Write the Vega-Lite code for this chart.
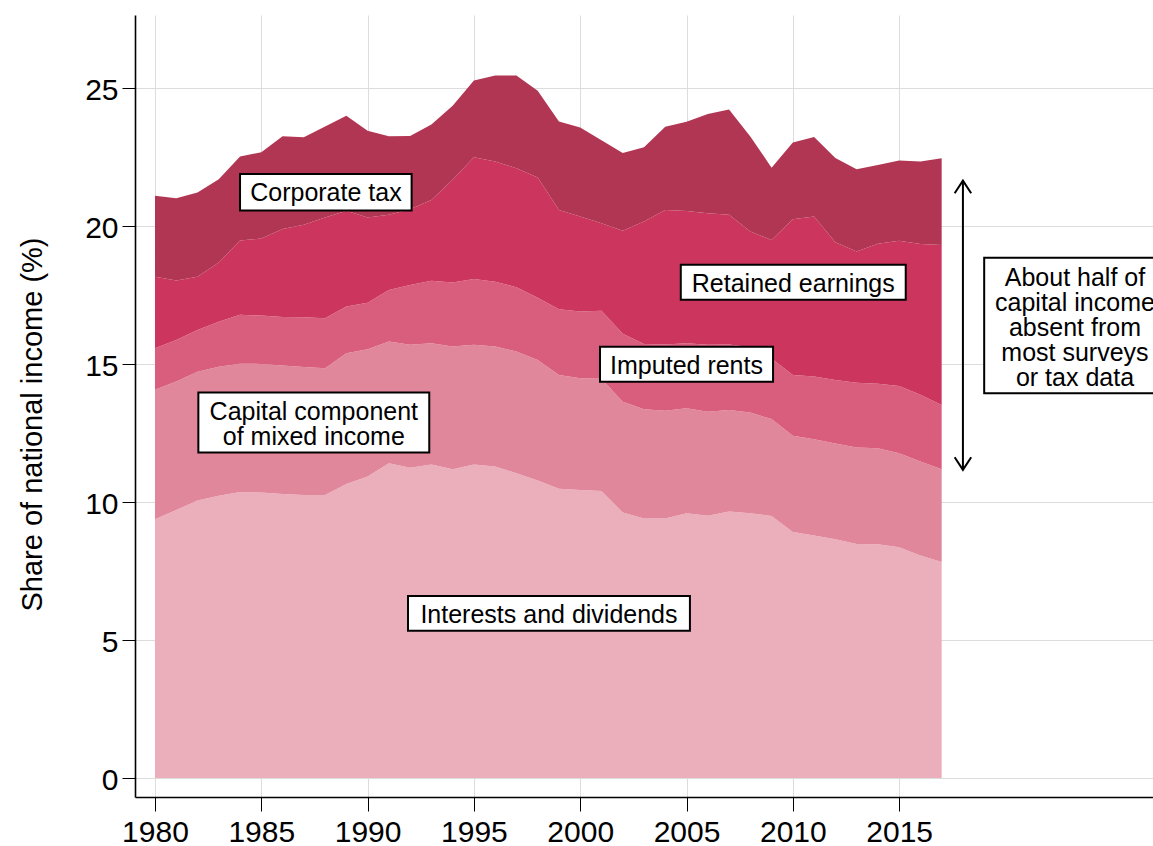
{
  "$schema": "https://vega.github.io/schema/vega-lite/v6.json",
  "width": 1018,
  "height": 782,
  "autosize": {"type": "none"},
  "padding": {"left": 135, "top": 15, "right": 0, "bottom": 49},
  "background": "white",
  "config": {"view": {"stroke": null}, "font": "Liberation Sans"},
  "datasets": {
    "shares": [
      {"year":1980,"int":9.37,"mix":4.69,"imp":1.51,"ret":2.59,"corp":2.93},
      {"year":1981,"int":9.71,"mix":4.65,"imp":1.51,"ret":2.15,"corp":2.98},
      {"year":1982,"int":10.05,"mix":4.67,"imp":1.51,"ret":1.93,"corp":3.05},
      {"year":1983,"int":10.22,"mix":4.68,"imp":1.63,"ret":2.14,"corp":3.02},
      {"year":1984,"int":10.36,"mix":4.65,"imp":1.77,"ret":2.69,"corp":3.04},
      {"year":1985,"int":10.34,"mix":4.66,"imp":1.75,"ret":2.79,"corp":3.13},
      {"year":1986,"int":10.29,"mix":4.65,"imp":1.76,"ret":3.19,"corp":3.36},
      {"year":1987,"int":10.25,"mix":4.64,"imp":1.80,"ret":3.35,"corp":3.17},
      {"year":1988,"int":10.25,"mix":4.59,"imp":1.81,"ret":3.65,"corp":3.30},
      {"year":1989,"int":10.65,"mix":4.74,"imp":1.69,"ret":3.47,"corp":3.44},
      {"year":1990,"int":10.92,"mix":4.61,"imp":1.69,"ret":3.08,"corp":3.15},
      {"year":1991,"int":11.40,"mix":4.41,"imp":1.87,"ret":2.72,"corp":2.85},
      {"year":1992,"int":11.24,"mix":4.45,"imp":2.17,"ret":2.74,"corp":2.66},
      {"year":1993,"int":11.36,"mix":4.39,"imp":2.26,"ret":2.93,"corp":2.73},
      {"year":1994,"int":11.18,"mix":4.45,"imp":2.32,"ret":3.72,"corp":2.68},
      {"year":1995,"int":11.36,"mix":4.33,"imp":2.39,"ret":4.41,"corp":2.78},
      {"year":1996,"int":11.28,"mix":4.35,"imp":2.35,"ret":4.35,"corp":3.12},
      {"year":1997,"int":11.04,"mix":4.41,"imp":2.33,"ret":4.31,"corp":3.36},
      {"year":1998,"int":10.78,"mix":4.36,"imp":2.26,"ret":4.35,"corp":3.15},
      {"year":1999,"int":10.48,"mix":4.12,"imp":2.38,"ret":3.60,"corp":3.20},
      {"year":2000,"int":10.43,"mix":4.05,"imp":2.42,"ret":3.44,"corp":3.22},
      {"year":2001,"int":10.40,"mix":4.06,"imp":2.47,"ret":3.17,"corp":3.00},
      {"year":2002,"int":9.62,"mix":4.01,"imp":2.46,"ret":3.73,"corp":2.82},
      {"year":2003,"int":9.40,"mix":3.96,"imp":2.36,"ret":4.44,"corp":2.69},
      {"year":2004,"int":9.40,"mix":3.90,"imp":2.40,"ret":4.88,"corp":3.01},
      {"year":2005,"int":9.59,"mix":3.80,"imp":2.36,"ret":4.79,"corp":3.23},
      {"year":2006,"int":9.50,"mix":3.77,"imp":2.42,"ret":4.77,"corp":3.59},
      {"year":2007,"int":9.65,"mix":3.68,"imp":2.37,"ret":4.70,"corp":3.82},
      {"year":2008,"int":9.59,"mix":3.65,"imp":2.36,"ret":4.20,"corp":3.44},
      {"year":2009,"int":9.49,"mix":3.51,"imp":2.20,"ret":4.29,"corp":2.62},
      {"year":2010,"int":8.91,"mix":3.49,"imp":2.20,"ret":5.64,"corp":2.78},
      {"year":2011,"int":8.78,"mix":3.49,"imp":2.27,"ret":5.80,"corp":2.88},
      {"year":2012,"int":8.65,"mix":3.47,"imp":2.30,"ret":4.99,"corp":3.05},
      {"year":2013,"int":8.48,"mix":3.49,"imp":2.35,"ret":4.75,"corp":2.98},
      {"year":2014,"int":8.47,"mix":3.47,"imp":2.34,"ret":5.07,"corp":2.86},
      {"year":2015,"int":8.36,"mix":3.40,"imp":2.44,"ret":5.26,"corp":2.91},
      {"year":2016,"int":8.06,"mix":3.40,"imp":2.42,"ret":5.46,"corp":2.99},
      {"year":2017,"int":7.82,"mix":3.36,"imp":2.33,"ret":5.80,"corp":3.14}
    ],
    "components": [
      {"key":"int","name":"Interests and dividends","rank":1},
      {"key":"mix","name":"Capital component of mixed income","rank":2},
      {"key":"imp","name":"Imputed rents","rank":3},
      {"key":"ret","name":"Retained earnings","rank":4},
      {"key":"corp","name":"Corporate tax","rank":5}
    ],
    "labels": [
      {"label":"Corporate tax","x":1988.04,"y":21.2,"x1":1984.0,"x2":1992.07,"y1":20.56,"y2":21.88},
      {"label":"Retained earnings","x":2010.02,"y":17.9,"x1":2004.73,"x2":2015.31,"y1":17.32,"y2":18.59},
      {"label":"Imputed rents","x":2005.0,"y":14.93,"x1":2000.93,"x2":2009.07,"y1":14.35,"y2":15.62},
      {"label":"Capital component\nof mixed income","x":1987.47,"y":13.25,"x1":1982.04,"x2":1992.9,"y1":11.79,"y2":13.96},
      {"label":"Interests and dividends","x":1998.53,"y":5.91,"x1":1991.9,"x2":2005.16,"y1":5.33,"y2":6.59},
      {"label":"About half of\ncapital income\nabsent from\nmost surveys\nor tax data","x":2023.27,"y":18.13,"x1":2019.0,"x2":2028.5,"y1":13.94,"y2":18.85}
    ],
    "arrow": [
      {"x":2018,"lo":11.16,"hi":21.64}
    ]
  },
  "layer": [
    {
      "data": {"name": "shares"},
      "transform": [
        {"fold": ["int","mix","imp","ret","corp"], "as": ["key","value"]},
        {"lookup": "key", "from": {"data": {"name": "components"}, "key": "key", "fields": ["name","rank"]}}
      ],
      "mark": {"type": "area", "interpolate": "linear"},
      "encoding": {
        "x": {
          "field": "year", "type": "quantitative",
          "scale": {"domain": [1979.06, 2026.94], "nice": false, "zero": false},
          "axis": {
            "values": [1980,1985,1990,1995,2000,2005,2010,2015],
            "format": "d", "title": null,
            "labelFontSize": 30, "labelColor": "black", "labelPadding": 6,
            "tickSize": 14, "tickColor": "black", "tickWidth": 1,
            "domainColor": "black", "domainWidth": 1.6,
            "grid": true, "gridColor": "#dcdcdc", "gridWidth": 1
          }
        },
        "y": {
          "field": "value", "type": "quantitative", "stack": "zero",
          "scale": {"domain": [-0.69, 27.64], "nice": false, "zero": false},
          "axis": {
            "values": [0,5,10,15,20,25],
            "title": "Share of national income (%)",
            "titleFontSize": 29, "titleFontWeight": "normal", "titleColor": "black",
            "titleX": -88, "titleY": 409, "titleBaseline": "bottom",
            "labelFontSize": 30, "labelColor": "black", "labelPadding": 4, "labelOffset": 3,
            "tickSize": 13, "tickColor": "black", "tickWidth": 1,
            "domainColor": "black", "domainWidth": 1.6,
            "grid": true, "gridColor": "#dcdcdc", "gridWidth": 1
          }
        },
        "color": {
          "field": "name", "type": "nominal", "legend": null,
          "scale": {
            "domain": ["Interests and dividends","Capital component of mixed income","Imputed rents","Retained earnings","Corporate tax"],
            "range": ["#ebaebb","#e0879b","#d95e7e","#cc365e","#b13653"]
          }
        },
        "order": {"field": "rank", "type": "quantitative", "sort": "ascending"}
      }
    },
    {
      "data": {"name": "arrow"},
      "mark": {"type": "rule", "color": "black", "strokeWidth": 2},
      "encoding": {
        "x": {"field": "x", "type": "quantitative"},
        "y": {"field": "lo", "type": "quantitative"},
        "y2": {"field": "hi"}
      }
    },
    {
      "data": {"name": "arrow"},
      "mark": {"type": "point", "shape": "M-0.65,1L0,0L0.65,1", "size": 645, "filled": false, "stroke": "black", "strokeWidth": 2, "opacity": 1},
      "encoding": {
        "x": {"field": "x", "type": "quantitative"},
        "y": {"field": "hi", "type": "quantitative"}
      }
    },
    {
      "data": {"name": "arrow"},
      "mark": {"type": "point", "shape": "M-0.65,-1L0,0L0.65,-1", "size": 645, "filled": false, "stroke": "black", "strokeWidth": 2, "opacity": 1},
      "encoding": {
        "x": {"field": "x", "type": "quantitative"},
        "y": {"field": "lo", "type": "quantitative"}
      }
    },
    {
      "data": {"name": "labels"},
      "mark": {"type": "rect", "fill": "white", "stroke": "black", "strokeWidth": 2, "clip": true},
      "encoding": {
        "x": {"field": "x1", "type": "quantitative"},
        "x2": {"field": "x2"},
        "y": {"field": "y1", "type": "quantitative"},
        "y2": {"field": "y2"}
      }
    },
    {
      "data": {"name": "labels"},
      "mark": {"type": "text", "fontSize": 25, "color": "black", "align": "center", "baseline": "middle", "lineBreak": "\n", "lineHeight": 25, "clip": true},
      "encoding": {
        "x": {"field": "x", "type": "quantitative"},
        "y": {"field": "y", "type": "quantitative"},
        "text": {"field": "label"}
      }
    }
  ]
}
